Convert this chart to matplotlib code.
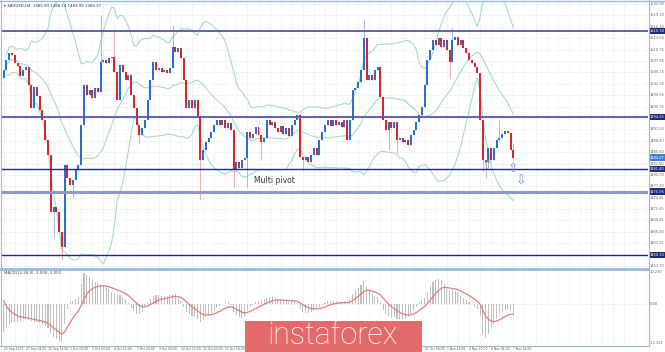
import matplotlib.pyplot as plt
from matplotlib.patches import Rectangle
from matplotlib.lines import Line2D
from matplotlib.transforms import blended_transform_factory
import numpy as np
import pandas as pd

# XAUUSD H4, 25 Sep 20:00 .. 7 Nov 12:00
first_open = 1503.8
closes = [
    1505.7, 1508.2, 1509.9, 1509.4, 1507.4, 1506.7, 1504.3, 1505.7, 1506.5, 1502.1,
    1496.4, 1501.6, 1499.4, 1495.9, 1493.5, 1488.6, 1484.9, 1471.0, 1472.2, 1471.0,
    1466.0, 1462.4, 1482.5, 1479.3, 1477.6, 1478.8, 1481.2, 1482.5, 1492.3, 1502.1,
    1499.6, 1500.8, 1498.9, 1501.3, 1500.3, 1507.7, 1508.2, 1507.4, 1508.7, 1508.9,
    1505.2, 1498.4, 1507.0, 1505.2, 1503.3, 1504.5, 1499.6, 1496.4, 1492.3, 1489.8,
    1491.5, 1493.5, 1498.4, 1503.3, 1507.7, 1505.7, 1506.2, 1505.2, 1505.7, 1505.0,
    1506.2, 1511.4, 1510.1, 1511.1, 1508.7, 1503.3, 1496.4, 1498.4, 1496.4, 1498.4,
    1494.2, 1483.7, 1486.1, 1488.1, 1489.1, 1490.5, 1492.3, 1493.5, 1492.3, 1493.5,
    1491.5, 1492.8, 1491.0, 1481.2, 1483.2, 1481.7, 1483.7, 1484.2, 1490.5, 1489.1,
    1490.0, 1491.8, 1489.8, 1488.1, 1489.1, 1493.5, 1492.3, 1493.0, 1491.5, 1490.5,
    1492.0, 1490.0, 1491.5, 1489.6, 1492.3, 1493.5, 1494.7, 1484.4, 1483.7, 1484.4,
    1483.2, 1484.9, 1486.6, 1484.9, 1488.6, 1490.5, 1492.3, 1493.5, 1492.0, 1493.5,
    1492.3, 1493.0, 1491.8, 1493.5, 1488.6, 1493.5, 1500.8, 1501.3, 1502.8, 1505.7,
    1513.6, 1503.3, 1504.5, 1503.3, 1505.7, 1506.5, 1499.1, 1493.5, 1491.0, 1493.0,
    1491.5, 1493.0, 1488.6, 1489.1, 1488.1, 1488.6, 1487.4, 1489.8, 1491.0, 1493.0,
    1494.7, 1496.7, 1502.1, 1508.2, 1510.6, 1513.1, 1511.9, 1513.6, 1511.4, 1513.1,
    1510.6, 1507.7, 1513.1, 1513.8, 1511.9, 1513.1, 1511.1, 1509.9, 1508.2, 1507.4,
    1506.5, 1505.0, 1493.5, 1483.7, 1483.2, 1486.6, 1483.7, 1486.6, 1488.6, 1489.1,
    1490.0, 1490.8, 1490.3, 1486.1, 1484.27,
]
high_wicks = {35: 1519.2, 40: 1515.5, 61: 1516.8, 130: 1518.0, 162: 1516.0,
              179: 1493.5, 184: 1487.8}
low_wicks = {18: 1464.8, 21: 1459.2, 25: 1474.4, 49: 1487.9, 71: 1473.9, 83: 1477.1,
             88: 1477.1, 93: 1483.7, 108: 1481.2, 139: 1486.1, 142: 1485.4,
             161: 1503.8, 173: 1480.7, 174: 1479.3}

# MACD(12,26,9) main values as drawn in the lower pane
macd_main = [
    -8.4, -7.2, -6.0, -5.7, -5.4, -5.4, -5.1, -4.5, -4.5, -4.8,
    -5.1, -5.4, -5.4, -5.7, -6.0, -6.6, -7.2, -9.0, -9.9, -10.5,
    -11.1, -11.4, -6.0, -1.5, 0.6, 0.9, 1.5, 2.1, 6.0, 9.3,
    8.7, 8.1, 7.2, 6.6, 6.3, 6.0, 5.7, 5.1, 4.5, 3.6,
    3.3, 2.7, 2.7, 2.1, 1.5, 0.3, -1.2, -2.1, -3.0, -3.0,
    -2.4, -0.9, 0.3, 1.5, 2.4, 2.7, 2.7, 2.4, 2.4, 2.4,
    2.7, 3.0, 3.0, 1.8, 0.9, -0.9, -2.4, -3.0, -3.6, -3.9,
    -4.5, -5.4, -4.8, -3.9, -3.3, -2.7, -2.1, -1.2, -0.6, 0.1,
    0.3, 0.6, -0.2, -2.4, -3.3, -3.9, -4.2, -3.6, -1.8, -0.9,
    -0.3, 0.6, 0.9, 1.2, 1.5, 1.8, 2.1, 2.1, 1.8, 1.5,
    1.2, 0.9, 0.9, 0.6, 0.9, 0.9, 0.3, -1.5, -2.4, -2.7,
    -2.7, -2.4, -1.8, -1.5, -0.9, -0.3, 0.3, 0.9, 0.9, 0.9,
    0.9, 0.6, 0.6, 0.9, 0.3, 1.2, 3.0, 4.2, 4.8, 5.7,
    6.9, 5.4, 4.2, 3.0, 2.4, 2.1, 0.3, -1.8, -3.0, -3.6,
    -3.9, -3.9, -4.5, -4.5, -4.5, -4.2, -3.9, -3.0, -1.8, -0.9,
    0.6, 1.2, 1.8, 3.6, 5.4, 6.6, 7.2, 7.5, 7.2, 6.0,
    5.1, 3.9, 4.2, 3.9, 3.3, 2.4, 1.8, 1.2, 0.6, -0.1,
    -0.9, -1.5, -3.6, -9.0, -10.2, -9.0, -7.2, -6.0, -4.5, -3.0,
    -2.4, -1.8, -1.5, -2.1, -3.0,
]
signal_start = 3.3

levels = [1515.30, 1494.25, 1481.40, 1475.95, 1460.30]
price_ticks = [1521.90, 1519.10, 1516.30, 1513.50, 1510.75, 1507.95, 1505.15, 1502.35,
               1499.55, 1496.75, 1493.95, 1491.20, 1488.40, 1485.60, 1482.80, 1480.00,
               1477.20, 1474.45, 1471.65, 1468.85, 1466.05, 1463.25, 1460.50, 1457.70]
date_labels = ["25 Sep 2019", "27 Sep 04:00", "30 Sep 12:00", "1 Oct 20:00", "3 Oct 04:00",
               "4 Oct 12:00", "7 Oct 20:00", "9 Oct 04:00", "10 Oct 12:00", "11 Oct 20:00",
               "15 Oct 04:00", "16 Oct 12:00", "17 Oct 20:00", "21 Oct 04:00", "22 Oct 12:00",
               "23 Oct 20:00", "25 Oct 04:00", "28 Oct 12:00", "29 Oct 20:00", "31 Oct 04:00",
               "1 Nov 12:00", "4 Nov 20:00", "6 Nov 04:00", "7 Nov 12:00"]

W, H = 665, 352
fig = plt.figure(figsize=(W / 100, H / 100), dpi=100)
fig.patch.set_facecolor('white')


def box(x0, y0, x1, y1):
    return [x0 / W, 1 - y1 / H, (x1 - x0) / W, (y1 - y0) / H]


ax = fig.add_axes(box(2, 2, 648, 267))
axm = fig.add_axes(box(2, 270, 648, 345))

n = len(closes)
x = np.arange(n)
c = np.array(closes)
o = np.concatenate([[first_open], c[:-1]])
hi = np.maximum(o, c)
lo = np.minimum(o, c)
for k, v in high_wicks.items():
    hi[k] = v
for k, v in low_wicks.items():
    lo[k] = v

px_bar = 2.77
xlim = (-0.6, -0.6 + 646 / px_bar)
grid_c = '#d3dbe8'
frame_c = '#9cb9dc'

for a in (ax, axm):
    a.set_xlim(*xlim)
    a.set_xticks([])
    a.set_yticks([])
    for s in a.spines.values():
        s.set_visible(False)
    for gx in range(0, int(xlim[1]) + 1, 4):
        a.axvline(gx, color=grid_c, lw=0.5, ls=':', zorder=0)

ax.set_ylim(1457.45, 1522.4)
for p in price_ticks:
    ax.axhline(p, color=grid_c, lw=0.5, ls=':', zorder=0)

# bollinger bands
s = pd.Series(c)
mid = s.rolling(20, min_periods=2).mean()
sd = s.rolling(20, min_periods=2).std(ddof=0)
for band in (mid + 2 * sd, mid, mid - 2 * sd):
    ax.plot(x, band, color='#a6dcbf', lw=0.8, zorder=1)

# candles
up = c >= o
col = np.where(up, '#2a6fd0', '#d8262c')
wick_col = np.where(up, '#8fb0e6', '#eb9a9c')
ax.vlines(x, lo, hi, colors=wick_col, lw=0.6, zorder=2)
ax.bar(x, np.maximum(np.abs(c - o), 0.25), bottom=np.minimum(o, c), width=0.72,
       color=col, zorder=3, linewidth=0)

# horizontal levels
lvl_style = [('#5656a8', 1.3), ('#5656a8', 1.3), ('#1f2a7a', 1.0), ('#8f97c8', 2.2),
             ('#1f2a7a', 1.0)]
for p, (lc, lw) in zip(levels, lvl_style):
    ax.axhline(p, color=lc, lw=lw, zorder=4)

tick_fs = 2.6
tr = blended_transform_factory(ax.transAxes, ax.transData)
for p in price_ticks:
    if min(abs(p - l) for l in levels) < 0.5:
        continue
    ax.text(1.003, p, f"{p:.2f}", transform=tr, fontsize=tick_fs, color='#666666',
            va='center', ha='left', clip_on=False)
for p in levels:
    ax.text(1.003, p, f"{p:.2f}", transform=tr, fontsize=tick_fs, color='white',
            va='center', ha='left', clip_on=False,
            bbox=dict(boxstyle='square,pad=0.3', fc='#1f2a7a', ec='none'))
ax.text(1.003, c[-1], f"{c[-1]:.2f}", transform=tr, fontsize=tick_fs, color='white',
        va='center', ha='left', clip_on=False,
        bbox=dict(boxstyle='square,pad=0.3', fc='#3f7fd0', ec='none'))

ax.text(90.3, 1478.6, "Multi pivot", fontsize=5.5, color='#333333', va='center', zorder=6)
for bx, by, g in [(174.5, 1482.3, "⇧"), (183.9, 1481.5, "⇧"), (187.0, 1478.6, "⇩")]:
    ax.text(bx, by, g, fontsize=9, color='#7b8fd4', ha='center', va='center', zorder=6)

# MACD: histogram of main line plus 9-period signal line
hist = np.array(macd_main)
sig = []
sg = signal_start
for m in hist:
    sg += (m - sg) * 0.2
    sig.append(sg)
sig = np.array(sig)
mmax, mmin = hist.max(), hist.min()
axm.set_ylim(mmin * 1.08, mmax * 1.1)
axm.axhline(0, color=grid_c, lw=0.5, ls=':', zorder=0)
axm.bar(x, hist, width=0.38, color='#bdbdbd', zorder=2, linewidth=0)
axm.plot(x, sig, color='#e57c7c', lw=0.9, zorder=3)
axm.text(0.003, 0.985, f"MACD(12,26,9) {hist[-1]:.3f} {sig[-1]:.3f}",
         transform=axm.transAxes, fontsize=2.8, color='#444444', va='top')
trm = blended_transform_factory(axm.transAxes, axm.transData)
for v in (mmax * 1.1, 0.0, mmin * 1.08):
    axm.text(1.003, v, f"{v:.3f}" if v else "0.00", transform=trm, fontsize=tick_fs,
             color='#666666', va='top' if v > 0 else ('bottom' if v < 0 else 'center'),
             ha='left', clip_on=False)

# date labels; the ones under the logo box are not visible in the chart
trd = blended_transform_factory(axm.transData, axm.transAxes)
for i, lab in enumerate(date_labels):
    if 88 <= i * 8 <= 144:
        continue
    axm.text(i * 8, -0.03, lab, transform=trd, fontsize=2.2, color='#555555',
             va='top', ha='left', clip_on=False)

# frame
fig.add_artist(Line2D([0, 648 / W], [1 - 268.5 / H] * 2, color=frame_c, lw=2))
fig.add_artist(Line2D([648.5 / W] * 2, [1 - 345 / H, 1], color=frame_c, lw=0.8))
fig.add_artist(Line2D([0, 648.5 / W], [1 - 345.5 / H] * 2, color=frame_c, lw=0.8))
fig.add_artist(Line2D([1 / W] * 2, [1 - 345 / H, 1], color=frame_c, lw=0.8))
fig.add_artist(Line2D([0, 1], [1 - 0.5 / H] * 2, color=frame_c, lw=1.0))

fig.text(4 / W, 1 - 6 / H, "▾ XAUUSD,H4  1485.90 1486.14 1483.95 1484.27", fontsize=2.8,
         color='#333333', va='center')

# logo
fig.add_artist(Rectangle((245 / W, 0), 177 / W, 31 / H, transform=fig.transFigure,
                         fc='#e36a6a', ec='none', zorder=10))
fig.text(333 / W, 1 - 336 / H, "instaforex", fontsize=22, color='white', ha='center',
         va='center', family='Roboto', weight='light', zorder=11)

fig.savefig('out.png', dpi=100)
